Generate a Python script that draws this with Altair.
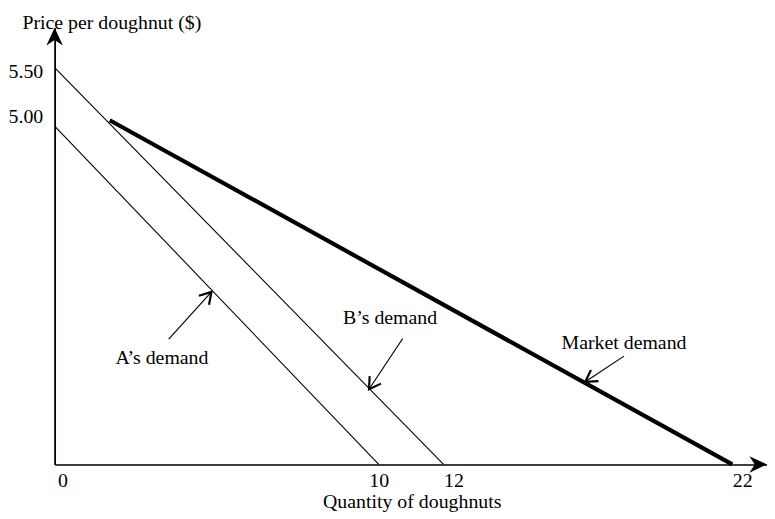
import altair as alt
import pandas as pd

# ---- data ----
a_q = [0, 10]
a_p = [5.00, 0]
b_q = [0, 12]
b_p = [5.50, 0]
m_q = [1.7, 22]
m_p = [5.05, 0]

x_ticks = [0, 10, 12, 22]
y_ticks = [5.00, 5.50]

ann_labels = ["A’s demand", "B’s demand", "Market demand"]
ann_text_q = [3.31, 10.35, 18.25]
ann_text_p = [1.57, 2.17, 1.80]
ann_tail_q = [3.52, 10.74, 18.25]
ann_tail_p = [1.85, 1.86, 1.60]
ann_head_q = [4.84, 9.70, 16.91]
ann_head_p = [2.55, 1.11, 1.22]
ann_angle = [311.8, 123.7, 146.3]

X_MAX = 23.2
Y_MAX = 5.84

FONT = "Liberation Serif"
FS = 20

W, H = 718, 440

xscale = alt.Scale(domain=[0, 12, 22, X_MAX], range=[0, 392, 683, W], nice=False, zero=False)
yscale = alt.Scale(domain=[0, 5, 5.5, Y_MAX], range=[H, 99, 40, 0], nice=False, zero=False)

xaxis = alt.Axis(values=x_ticks, format="d", ticks=False, tickSize=0, grid=False,
                 domainColor="black", domainWidth=1.5,
                 labelFont=FONT, labelFontSize=FS, labelColor="black", labelPadding=6,
                 labelBaseline="top", labelOverlap=False,
                 labelOffset={"condition": [{"test": "datum.value >= 12", "value": 10},
                                            {"test": "datum.value == 0", "value": 3}],
                              "value": 0},
                 title="Quantity of doughnuts", titleFont=FONT, titleFontSize=FS,
                 titleFontWeight="normal", titleColor="black",
                 titleAlign="left", titleBaseline="middle", titleX=270, titleY=37)
yaxis = alt.Axis(values=y_ticks, format=".2f", ticks=False, tickSize=0, grid=False,
                 domainColor="black", domainWidth=1.8,
                 labelFont=FONT, labelFontSize=FS, labelColor="black", labelPadding=12,
                 labelOverlap=False,
                 labelOffset={"condition": [{"test": "datum.value < 5.2", "value": -10}],
                              "value": 4},
                 title="Price per doughnut ($)", titleFont=FONT, titleFontSize=FS,
                 titleFontWeight="normal", titleColor="black", titleAngle=0,
                 titleAlign="left", titleBaseline="middle", titleX=-33, titleY=-5)

def X(field):
    return alt.X(field, type="quantitative", scale=xscale, axis=xaxis)

def Y(field):
    return alt.Y(field, type="quantitative", scale=yscale, axis=yaxis)

lines_df = pd.DataFrame({
    "q": a_q + b_q + m_q,
    "p": a_p + b_p + m_p,
    "curve": ["A"] * 2 + ["B"] * 2 + ["M"] * 2,
})

base_thin = alt.Chart(lines_df[lines_df.curve != "M"]).mark_line(
    color="black", strokeWidth=1.1
).encode(x=X("q"), y=Y("p"), detail="curve:N")

market = alt.Chart(lines_df[lines_df.curve == "M"]).mark_line(
    color="black", strokeWidth=4.2, strokeCap="butt"
).encode(x=X("q"), y=Y("p"))

ann_df = pd.DataFrame({
    "label": ann_labels,
    "tq": ann_text_q, "tp": ann_text_p,
    "q0": ann_tail_q, "p0": ann_tail_p,
    "q1": ann_head_q, "p1": ann_head_p,
    "angle": ann_angle,
})

shafts = alt.Chart(ann_df).mark_rule(color="black", strokeWidth=1.2).encode(
    x=X("q0"), y=Y("p0"), x2="q1", y2="p1"
)
heads = alt.Chart(ann_df).mark_point(
    shape="M-1,-0.6 L0,0 L-1,0.6", filled=False, color="black",
    strokeWidth=2.2, size=520, opacity=1
).encode(x=X("q1"), y=Y("p1"), angle=alt.Angle("angle:Q", scale=None))
texts = alt.Chart(ann_df).mark_text(
    font=FONT, fontSize=FS, color="black", align="center", baseline="middle"
).encode(x=X("tq"), y=Y("tp"), text="label:N")

axis_end_df = pd.DataFrame({"q": [0, X_MAX], "p": [Y_MAX, 0], "angle": [270, 0]})
axis_heads = alt.Chart(axis_end_df).mark_point(
    shape="M0,0 L-1,-0.47 L-0.7,0 L-1,0.47 Z", filled=True, color="black",
    size=1250, opacity=1, strokeWidth=0
).encode(x=X("q"), y=Y("p"), angle=alt.Angle("angle:Q", scale=None))

chart = alt.layer(base_thin, market, shafts, heads, texts, axis_heads).properties(
    width=W, height=H,
    background="white",
    autosize=alt.AutoSizeParams(type="none"),
    padding={"left": 47, "top": 18, "right": 0, "bottom": 47},
).configure_view(stroke=None)

chart.save("out.html", embed_options={"renderer": "svg", "actions": False})
